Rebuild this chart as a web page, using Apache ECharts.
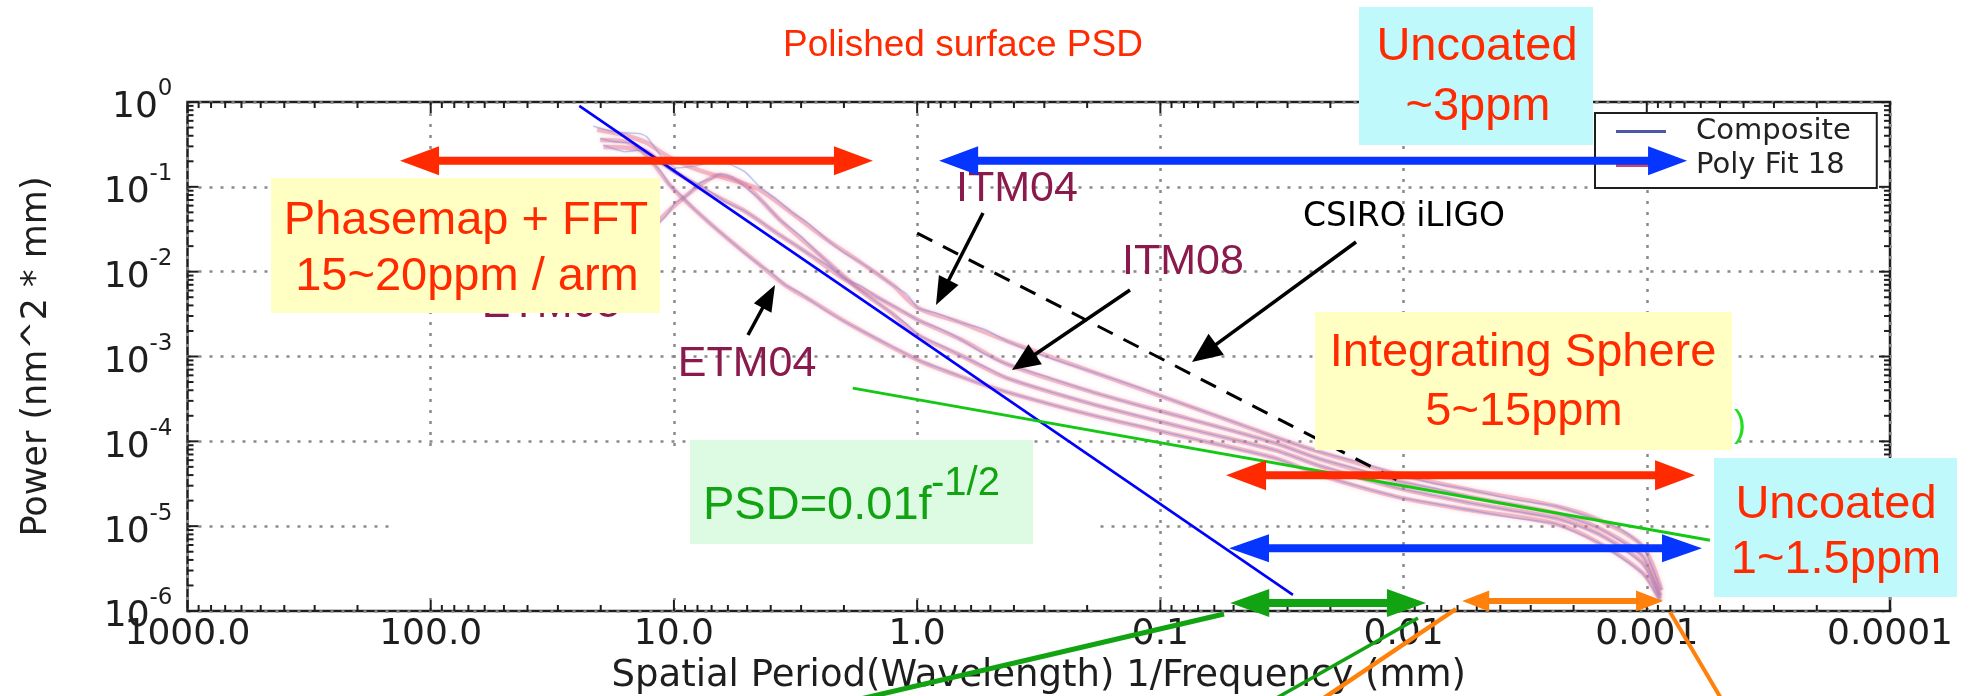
<!DOCTYPE html>
<html>
<head>
<meta charset="utf-8">
<title>Polished surface PSD</title>
<script src="https://cdn.jsdelivr.net/npm/echarts@6/dist/echarts.min.js"></script>
<style>
  html, body { margin: 0; padding: 0; background: #ffffff; }
  #chart { width: 1970px; height: 696px; }
</style>
</head>
<body>
<div id="chart"></div>
<script>
// ---------------- axis ticks ----------------
const periodTicks = [1000, 100, 10, 1, 0.1, 0.01, 0.001, 0.0001];
const periodTickLabels = ['1000.0', '100.0', '10.0', '1.0', '0.1', '0.01', '0.001', '0.0001'];
const powerExponents = [0, -1, -2, -3, -4, -5, -6];

// ---------------- measured PSD traces: [spatial period (mm), power (nm^2*mm)] ----------------
const itm04Fit = [[20.7,0.47],[15.6,0.40],[12.9,0.33],[11.4,0.26],[9.71,0.20],[7.81,0.155],[6.05,0.125],[5.10,0.108],[4.43,0.092],[3.24,0.048],[2.34,0.0236],[1.72,0.0130],[1.26,0.00695],[0.991,0.00372],[0.653,0.00248],[0.427,0.00152],[0.184,6.37e-4],[0.0783,2.67e-4],[0.0337,1.12e-4],[0.0220,7.46e-5],[0.01054,4.10e-5],[0.00527,2.66e-5],[0.00236,1.72e-5],[0.00157,1.18e-5],[0.00104,5.81e-6],[0.00087,1.76e-6]];
const itm04Composite = [[21.5,0.52],[18.0,0.45],[15.6,0.431],[13.8,0.425],[12.9,0.387],[11.4,0.237],[10.5,0.19],[9.71,0.167],[8.7,0.172],[7.81,0.181],[6.9,0.205],[6.05,0.191],[5.10,0.150],[4.43,0.0995],[3.8,0.072],[3.24,0.0491],[2.8,0.037],[2.34,0.0236],[2.0,0.0168],[1.72,0.0130],[1.45,0.0094],[1.26,0.00695],[1.1,0.0054],[0.991,0.00372],[0.82,0.0032],[0.653,0.00248],[0.53,0.0021],[0.427,0.00152],[0.3,0.00101],[0.184,6.37e-4],[0.12,4.2e-4],[0.0783,2.67e-4],[0.05,1.70e-4],[0.0337,1.12e-4],[0.0220,7.46e-5],[0.015,5.6e-5],[0.01054,4.10e-5],[0.0075,3.2e-5],[0.00527,2.66e-5],[0.0035,2.05e-5],[0.00236,1.72e-5],[0.00157,1.18e-5],[0.00125,8.8e-6],[0.00104,5.81e-6],[0.00087,1.76e-6]];

const itm08Fit = [[19.5,0.295],[13.4,0.272],[11.4,0.20],[9.71,0.146],[7.11,0.0845],[5.20,0.0533],[3.77,0.0285],[2.75,0.0157],[2.02,0.00841],[1.46,0.00501],[0.991,0.00269],[0.653,0.00156],[0.427,8.13e-4],[0.184,3.70e-4],[0.0783,1.88e-4],[0.0337,9.52e-5],[0.0220,6.17e-5],[0.01054,3.39e-5],[0.00527,2.20e-5],[0.00236,1.42e-5],[0.00157,9.46e-6],[0.00104,4.43e-6],[0.00088,1.53e-6]];
const itm08Composite = [[19.5,0.31],[16.0,0.26],[13.4,0.272],[11.4,0.19],[9.71,0.14],[8.2,0.112],[7.11,0.088],[6.1,0.066],[5.20,0.0533],[4.4,0.039],[3.77,0.0285],[3.2,0.021],[2.75,0.0157],[2.3,0.0115],[2.02,0.00841],[1.7,0.0068],[1.46,0.00501],[1.2,0.0037],[0.991,0.00269],[0.8,0.0021],[0.653,0.00156],[0.53,0.00108],[0.427,8.13e-4],[0.28,5.5e-4],[0.184,3.70e-4],[0.12,2.6e-4],[0.0783,1.88e-4],[0.05,1.32e-4],[0.0337,9.52e-5],[0.0220,6.17e-5],[0.015,4.6e-5],[0.01054,3.39e-5],[0.0075,2.8e-5],[0.00527,2.20e-5],[0.0035,1.75e-5],[0.00236,1.42e-5],[0.00157,9.46e-6],[0.00104,4.43e-6],[0.00088,1.53e-6]];

const etm05Fit = [[12.0,0.0355],[9.89,0.0610],[7.81,0.105],[6.46,0.138],[5.10,0.105],[3.66,0.0406],[2.51,0.0157],[1.72,0.00607],[1.29,0.00334],[0.991,0.00179],[0.653,1.01e-3],[0.427,5.56e-4],[0.184,2.67e-4],[0.0783,1.43e-4],[0.0337,7.87e-5],[0.0220,5.10e-5],[0.01054,2.81e-5],[0.00527,1.87e-5],[0.00236,1.24e-5],[0.00157,8.05e-6],[0.00104,3.66e-6],[0.00088,1.42e-6]];
const etm05Composite = [[12.0,0.033],[10.8,0.045],[9.89,0.0640],[8.8,0.08],[7.81,0.112],[7.0,0.125],[6.46,0.142],[5.7,0.128],[5.10,0.100],[4.3,0.066],[3.66,0.0406],[3.0,0.026],[2.51,0.0157],[2.1,0.0098],[1.72,0.00607],[1.5,0.0046],[1.29,0.00334],[1.1,0.0024],[0.991,0.00179],[0.8,0.00135],[0.653,1.01e-3],[0.53,7.6e-4],[0.427,5.56e-4],[0.28,3.8e-4],[0.184,2.67e-4],[0.12,1.95e-4],[0.0783,1.43e-4],[0.05,1.05e-4],[0.0337,7.87e-5],[0.0220,5.10e-5],[0.015,3.8e-5],[0.01054,2.81e-5],[0.0075,2.3e-5],[0.00527,1.87e-5],[0.0035,1.5e-5],[0.00236,1.24e-5],[0.00157,8.05e-6],[0.00104,3.66e-6],[0.00088,1.42e-6]];

const etm04Fit = [[20.1,0.356],[15.1,0.329],[12.5,0.207],[10.4,0.105],[8.34,0.0562],[6.05,0.0249],[4.43,0.0120],[3.49,0.00695],[2.75,0.00462],[1.87,0.00235],[0.991,9.07e-4],[0.653,5.71e-4],[0.427,3.80e-4],[0.184,1.98e-4],[0.0783,1.12e-4],[0.0337,6.34e-5],[0.0220,3.99e-5],[0.01054,2.20e-5],[0.00527,1.54e-5],[0.00236,1.06e-5],[0.00157,6.31e-6],[0.00104,2.79e-6],[0.00088,1.31e-6]];
const etm04Composite = [[20.1,0.37],[17.5,0.34],[15.1,0.329],[13.6,0.27],[12.5,0.207],[11.3,0.15],[10.4,0.105],[9.3,0.078],[8.34,0.0562],[7.1,0.037],[6.05,0.0249],[5.2,0.0172],[4.43,0.0120],[3.9,0.0092],[3.49,0.00695],[3.1,0.0058],[2.75,0.00462],[2.3,0.0033],[1.87,0.00235],[1.4,0.00152],[0.991,9.07e-4],[0.8,7.2e-4],[0.653,5.71e-4],[0.53,4.6e-4],[0.427,3.80e-4],[0.28,2.7e-4],[0.184,1.98e-4],[0.12,1.5e-4],[0.0783,1.12e-4],[0.05,8.3e-5],[0.0337,6.34e-5],[0.0220,3.99e-5],[0.015,2.9e-5],[0.01054,2.20e-5],[0.0075,1.85e-5],[0.00527,1.54e-5],[0.0035,1.25e-5],[0.00236,1.06e-5],[0.00157,6.31e-6],[0.00104,2.79e-6],[0.00088,1.31e-6]];

// ---------------- reference lines ----------------
const steepSlopeLine = [[24.5, 0.90], [0.0285, 1.55e-6]];
const psdModelLine = [[1.84, 4.24e-4], [5.5e-4, 6.84e-6]];
const csiroLine = [[1.0, 0.0285], [0.0101, 3.24e-5]];

// ---------------- measurement ranges: [from period, to period, drawn at power] ----------------
const phasemapRange = [133.7, 1.52, 0.203];
const uncoatedTopRange = [0.812, 6.83e-4, 0.203];
const sphereRange = [0.0537, 6.33e-4, 3.99e-5];
const uncoatedLowRange = [0.0522, 5.93e-4, 5.5e-6];
const greenRange = [0.0516, 0.00809, 1.24e-6];
const orangeRange = [0.00574, 0.000857, 1.31e-6];

// ---------------- styles ----------------
const RED = '#ff2a00', BLUE = '#0535ff', GREEN = '#12a312', ORANGE = '#ff800a', MAROON = '#8a1a4c';
const SANS = '"Liberation Sans", Arial, Helvetica, sans-serif';
const AXISFONT = '"DejaVu Sans", Verdana, sans-serif';
const INK = '#1e1e1e';

const xMin = Math.min(...periodTicks), xMax = Math.max(...periodTicks);
const yMin = Math.pow(10, Math.min(...powerExponents)), yMax = Math.pow(10, Math.max(...powerExponents));

// major + minor tick rows for the framed axes
const tickRows = [];
for (let e = Math.round(Math.log10(xMin)); e <= Math.round(Math.log10(xMax)); e++) {
  const base = Math.pow(10, e);
  tickRows.push([base, yMin, 1, 0]);
  if (e < Math.round(Math.log10(xMax))) for (let k = 2; k <= 9; k++) tickRows.push([k * base, yMin, 0, 0]);
}
for (let e = Math.round(Math.log10(yMin)); e <= Math.round(Math.log10(yMax)); e++) {
  const base = Math.pow(10, e);
  tickRows.push([xMax, base, 1, 1]);
  if (e < Math.round(Math.log10(yMax))) for (let k = 2; k <= 9; k++) tickRows.push([xMax, k * base, 0, 1]);
}

const fitStyle = { color: '#e6718c', width: 4.5, opacity: 0.42, shadowBlur: 4, shadowColor: 'rgba(235,120,145,0.6)' };
const compStyle = { color: '#7e8ede', width: 1.3, opacity: 0.45, shadowBlur: 2, shadowColor: 'rgba(126,142,222,0.5)' };

function trace(name, data, style, smooth) {
  return {
    type: 'line', name: name, data: data, symbol: 'none', showSymbol: false, smooth: smooth,
    lineStyle: style, itemStyle: { color: style.color }, z: 2, silent: true
  };
}

const series = [];
[itm04Fit, itm08Fit, etm05Fit, etm04Fit].forEach(d => series.push(trace('Poly Fit 18', d, fitStyle, 0.3)));
[itm04Composite, itm08Composite, etm05Composite, etm04Composite].forEach(d => series.push(trace('Composite', d, compStyle, 0.15)));

series.push({ type: 'line', name: 'slope-2', data: steepSlopeLine, symbol: 'none', lineStyle: { color: '#0000ff', width: 2.6 }, z: 4, silent: true });
series.push({ type: 'line', name: 'psd model', data: psdModelLine, symbol: 'none', lineStyle: { color: '#14c814', width: 3 }, z: 4, silent: true });
series.push({ type: 'line', name: 'CSIRO', data: csiroLine, symbol: 'none', lineStyle: { color: '#000', width: 3, type: [17, 12] }, z: 4, silent: true });

// ticks on all four sides of the frame
series.push({
  type: 'custom', name: 'frame ticks', data: tickRows, encode: { x: 0, y: 1 }, z: 6, silent: true,
  renderItem: function (params, api) {
    const major = api.value(2) === 1, side = api.value(3);
    const len = major ? 11 : 6;
    const st = { stroke: INK, lineWidth: 2 };
    if (side === 0) {
      const b = api.coord([api.value(0), yMin]), t = api.coord([api.value(0), yMax]);
      return { type: 'group', children: [
        { type: 'line', shape: { x1: b[0], y1: b[1], x2: b[0], y2: b[1] - len }, style: st },
        { type: 'line', shape: { x1: t[0], y1: t[1], x2: t[0], y2: t[1] + len }, style: st }
      ] };
    }
    const p1 = api.coord([xMax, api.value(1)]), p2 = api.coord([xMin, api.value(1)]);
    const l = Math.min(p1[0], p2[0]), r = Math.max(p1[0], p2[0]);
    return { type: 'group', children: [
      { type: 'line', shape: { x1: l, y1: p1[1], x2: l + len, y2: p1[1] }, style: st },
      { type: 'line', shape: { x1: r, y1: p1[1], x2: r - len, y2: p1[1] }, style: st }
    ] };
  }
});

// double-headed range arrows
const rangeRows = [phasemapRange, uncoatedTopRange, sphereRange, uncoatedLowRange, greenRange, orangeRange];
const rangeLook = [
  { c: RED, shaft: 8, hl: 39, hh: 29 },
  { c: BLUE, shaft: 8, hl: 39, hh: 29 },
  { c: RED, shaft: 8, hl: 40, hh: 30 },
  { c: BLUE, shaft: 8, hl: 40, hh: 28 },
  { c: GREEN, shaft: 8, hl: 39, hh: 28 },
  { c: ORANGE, shaft: 6, hl: 27, hh: 21 }
];
series.push({
  type: 'custom', name: 'ranges', data: rangeRows, encode: { x: [0, 1], y: 2 }, z: 30, silent: true,
  renderItem: function (params, api) {
    const look = rangeLook[params.dataIndex];
    const a = api.coord([api.value(0), api.value(2)]), b = api.coord([api.value(1), api.value(2)]);
    const l = Math.min(a[0], b[0]), r = Math.max(a[0], b[0]), y = a[1];
    return { type: 'group', children: [
      { type: 'rect', shape: { x: l + look.hl - 2, y: y - look.shaft / 2, width: r - l - 2 * look.hl + 4, height: look.shaft }, style: { fill: look.c } },
      { type: 'polygon', shape: { points: [[l, y], [l + look.hl, y - look.hh / 2], [l + look.hl, y + look.hh / 2]] }, style: { fill: look.c } },
      { type: 'polygon', shape: { points: [[r, y], [r - look.hl, y - look.hh / 2], [r - look.hl, y + look.hh / 2]] }, style: { fill: look.c } }
    ] };
  }
});

// ---------------- overlay annotations ----------------
function txt(text, x, y, size, color, family, align, z) {
  return { type: 'text', x: x, y: y, z: z || 22, silent: true,
    style: { text: text, fill: color, font: size + 'px ' + (family || SANS), align: align || 'center', verticalAlign: 'middle' } };
}
function box(x, y, w, h, fill, z) {
  return { type: 'rect', z: z || 20, silent: true, shape: { x: x, y: y, width: w, height: h }, style: { fill: fill } };
}
function pointer(x1, y1, x2, y2, color, w, hl, hw) {
  const dx = x2 - x1, dy = y2 - y1, L = Math.hypot(dx, dy), ux = dx / L, uy = dy / L;
  const bx = x2 - ux * hl, by = y2 - uy * hl;
  return [
    { type: 'line', z: 24, silent: true, shape: { x1: x1, y1: y1, x2: bx + ux * 3, y2: by + uy * 3 }, style: { stroke: color, lineWidth: w } },
    { type: 'polygon', z: 24, silent: true, shape: { points: [[x2, y2], [bx - uy * hw / 2, by + ux * hw / 2], [bx + uy * hw / 2, by - ux * hw / 2]] }, style: { fill: color } }
  ];
}
function stroke(x1, y1, x2, y2, color, w) {
  return { type: 'line', z: 24, silent: true, shape: { x1: x1, y1: y1, x2: x2, y2: y2 }, style: { stroke: color, lineWidth: w } };
}

const graphics = [
  // white panel behind the PSD formula
  { type: 'rect', z: 1, silent: true, shape: { x: 390, y: 447, width: 706, height: 151 }, style: { fill: '#ffffff' } },

  txt('ETM05', 551, 305, 43, MAROON, SANS, 'center', 19),
  box(271, 178, 389, 135, '#ffffc3'),
  txt('Phasemap + FFT', 466, 221, 47, RED),
  txt('15~20ppm / arm', 467, 277, 47, RED),

  box(1359, 7, 234, 138, '#bff9fc'),
  txt('Uncoated', 1477, 47, 47, RED),
  txt('~3ppm', 1478, 107, 47, RED),

  txt(')', 1740, 426, 36, '#22dd22', SANS, 'center', 19),
  box(1315, 312, 417, 138, '#ffffc3'),
  txt('Integrating Sphere', 1523, 353, 47, RED),
  txt('5~15ppm', 1524, 412, 47, RED),

  box(1714, 458, 243, 139, '#bff9fc'),
  txt('Uncoated', 1836, 505, 47, RED),
  txt('1~1.5ppm', 1836, 560, 47, RED),

  box(690, 440, 343, 104, '#ddfbe3'),
  txt('PSD=0.01f', 703, 506, 47, GREEN, SANS, 'left'),
  txt('-1/2', 931, 484, 40, GREEN, SANS, 'left'),

  txt('ITM04', 1017, 189, 43, MAROON),
  txt('ITM08', 1183, 262, 43, MAROON),
  txt('ETM04', 747, 364, 43, MAROON),
  txt('CSIRO iLIGO', 1404, 217, 33, '#000000', AXISFONT),

  stroke(1224, 614, 856, 700, GREEN, 5),
  stroke(1418, 618, 1273, 700, GREEN, 3.5),
  stroke(1456, 609, 1321, 700, ORANGE, 4.5),
  stroke(1670, 612, 1722, 700, ORANGE, 4)
]
  .concat(pointer(748, 335, 775, 285, '#000', 3.5, 26, 20))
  .concat(pointer(983, 213, 936, 305, '#000', 3.5, 28, 22))
  .concat(pointer(1130, 290, 1012, 370, '#000', 3.5, 28, 24))
  .concat(pointer(1356, 242, 1192, 362, '#000', 3.5, 30, 26));

const option = {
  animation: false,
  backgroundColor: '#ffffff',
  title: {
    text: 'Polished surface PSD', left: 783, top: 27, padding: 0,
    textStyle: { color: RED, fontSize: 37, fontWeight: 'normal', fontFamily: SANS }
  },
  legend: {
    orient: 'vertical', left: 1595, top: 113, padding: [3, 26, 7, 21], itemGap: 3,
    itemWidth: 50, itemHeight: 3, selectedMode: false, z: 15,
    backgroundColor: '#ffffff', borderColor: INK, borderWidth: 2, borderRadius: 0,
    textStyle: { fontFamily: AXISFONT, fontSize: 29, color: '#222', lineHeight: 31, padding: [0, 0, 0, 25] },
    data: [
      { name: 'Composite', icon: 'rect', itemStyle: { color: '#4b58a6', opacity: 1 } },
      { name: 'Poly Fit 18', icon: 'rect', itemStyle: { color: '#c24a6a', opacity: 1 } }
    ]
  },
  grid: {
    left: 187.5, top: 102, width: 1702.5, height: 509, show: true,
    borderColor: INK, borderWidth: 2.5, backgroundColor: 'transparent',
    containLabel: false, outerBoundsMode: 'none'
  },
  xAxis: {
    type: 'log', logBase: 10, inverse: true, min: xMin, max: xMax, interval: 1,
    axisLine: { show: false }, axisTick: { show: false },
    splitLine: { show: true, lineStyle: { color: '#8a8a8a', width: 2.5, type: [3, 8] } },
    axisLabel: {
      show: true, interval: 0, margin: 6, showMinLabel: true, showMaxLabel: true, hideOverlap: false,
      color: INK, fontFamily: AXISFONT, fontSize: 36,
      formatter: function (v) { return periodTickLabels[Math.round(3 - Math.log10(v))]; }
    },
    name: 'Spatial Period(Wavelength) 1/Frequency (mm)', nameLocation: 'middle', nameGap: 45,
    nameTextStyle: { fontFamily: AXISFONT, fontSize: 37, color: INK }
  },
  yAxis: {
    type: 'log', logBase: 10, min: yMin, max: yMax, interval: 1,
    axisLine: { show: false }, axisTick: { show: false },
    splitLine: { show: true, lineStyle: { color: '#8a8a8a', width: 2.5, type: [3, 8] } },
    axisLabel: {
      show: true, margin: 15, showMinLabel: true, showMaxLabel: true, hideOverlap: false,
      formatter: function (v) { return '{b|10}{s|' + Math.round(Math.log10(v)) + '}'; },
      rich: {
        b: { fontFamily: AXISFONT, fontSize: 36, color: INK, lineHeight: 48, verticalAlign: 'bottom' },
        s: { fontFamily: AXISFONT, fontSize: 23, color: INK, lineHeight: 26, verticalAlign: 'top' }
      }
    },
    name: 'Power (nm^2 * mm)', nameLocation: 'middle', nameGap: 133,
    nameTextStyle: { fontFamily: AXISFONT, fontSize: 35, color: INK }
  },
  graphic: { elements: graphics },
  series: series
};

const chart = echarts.init(document.getElementById('chart'), null, { renderer: 'canvas', width: 1970, height: 696 });
chart.setOption(option);
</script>
</body>
</html>
